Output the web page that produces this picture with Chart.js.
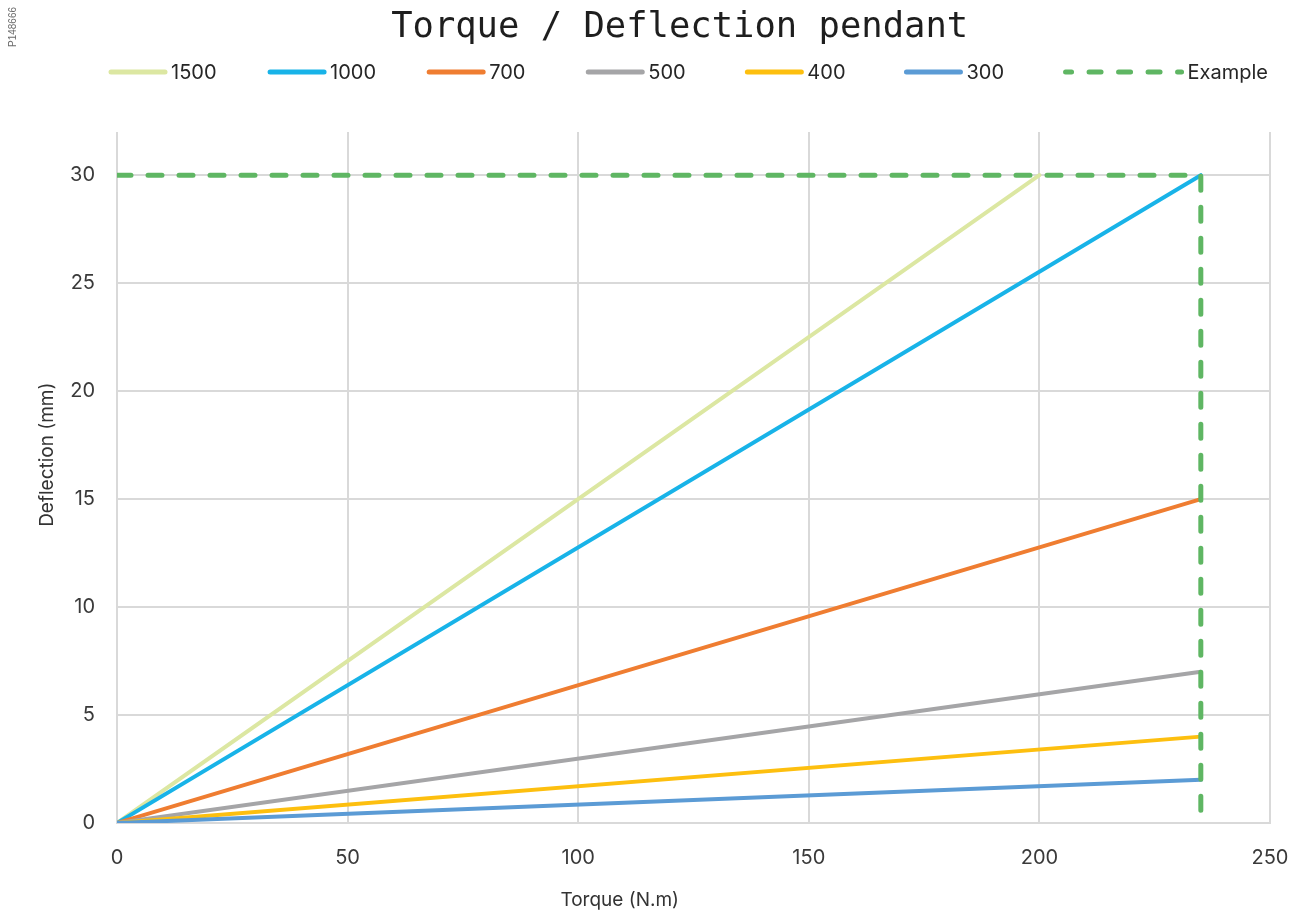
<!DOCTYPE html>
<html>
<head>
<meta charset="utf-8">
<title>Torque / Deflection pendant</title>
<style>
  html, body { margin: 0; padding: 0; background: #ffffff; }
  #wrap { width: 1308px; height: 916px; }
</style>
<script src="https://cdn.jsdelivr.net/npm/chart.js@4.4.1/dist/chart.umd.min.js"></script>
</head>
<body>
<div id="wrap"><canvas id="chart" width="1308" height="916"></canvas></div>
<script>
// Series labels (pendant length) and their end points
const seriesLabels = ['1500', '1000', '700', '500', '400', '300', 'Example'];
const torque1500 = [0, 200];
const deflection1500 = [0, 30];
const torqueRange = [0, 235];
const deflection1000 = [0, 30];
const deflection700 = [0, 15];
const deflection500 = [0, 7];
const deflection400 = [0, 4];
const deflection300 = [0, 2];
const exampleTorque = [0, 235, 235];
const exampleDeflection = [30, 30, 0];

// Axis ticks
const xTickValues = [0, 50, 100, 150, 200, 250];
const yTickValues = [0, 5, 10, 15, 20, 25, 30];

const chartTitle = 'Torque / Deflection pendant';
const xAxisTitle = 'Torque (N.m)';
const yAxisTitle = 'Deflection (mm)';
const documentCode = 'P148666';

const seriesColors = ['#dce7a2', '#18b3e8', '#ef7d31', '#a5a5a7', '#fdbf0f', '#5b9bd5', '#5fb663'];

const pts = (xs, ys) => xs.map((x, i) => ({ x: x, y: ys[i] }));

const seriesPoints = [
  pts(torque1500, deflection1500),
  pts(torqueRange, deflection1000),
  pts(torqueRange, deflection700),
  pts(torqueRange, deflection500),
  pts(torqueRange, deflection400),
  pts(torqueRange, deflection300),
  pts(exampleTorque, exampleDeflection)
];

const datasets = seriesLabels.map((label, i) => {
  const dashed = label === 'Example';
  return {
    label: label,
    data: seriesPoints[i],
    showLine: true,
    borderColor: seriesColors[i],
    backgroundColor: seriesColors[i],
    borderWidth: dashed ? 5 : 4,
    borderDash: dashed ? [14, 17] : [],
    borderCapStyle: 'round',
    borderJoinStyle: 'round',
    pointRadius: 0,
    pointHoverRadius: 0,
    fill: false,
    tension: 0,
    // later series are painted over earlier ones
    order: seriesLabels.length - i
  };
});

const FONT = 'Inter, "Noto Sans", sans-serif';

// Title, legend row, axis titles and the document code
const decorations = {
  id: 'decorations',
  afterDraw(chart) {
    const { ctx, chartArea: a } = chart;
    ctx.save();

    // title
    ctx.fillStyle = '#1e1e1e';
    ctx.font = '35.5px "DejaVu Sans Mono", monospace';
    ctx.textAlign = 'center';
    ctx.textBaseline = 'middle';
    ctx.fillText(chartTitle, a.left + 0.488 * (a.right - a.left), 28);

    // legend
    ctx.font = '20px ' + FONT;
    const items = chart.data.datasets.map(ds => {
      const dashed = ds.borderDash && ds.borderDash.length > 0;
      const lineLen = dashed ? 122 : 60;
      return { ds, dashed, lineLen, w: lineLen + 5 + ctx.measureText(ds.label).width };
    });
    const rowLeft = a.left - 9;
    const rowRight = a.right;
    const step = (rowRight - rowLeft - items[items.length - 1].w) / (items.length - 1);
    const ly = 72;
    items.forEach((it, i) => {
      const x = rowLeft + i * step;
      ctx.beginPath();
      ctx.strokeStyle = it.ds.borderColor;
      ctx.lineWidth = 5;
      ctx.lineCap = 'round';
      ctx.setLineDash(it.dashed ? [12, 17.5] : []);
      ctx.lineDashOffset = it.dashed ? 6 : 0;
      ctx.moveTo(x + 3, ly);
      ctx.lineTo(x + it.lineLen - 3, ly);
      ctx.stroke();
      ctx.setLineDash([]);
      ctx.lineDashOffset = 0;
      ctx.fillStyle = '#262626';
      ctx.textAlign = 'left';
      ctx.textBaseline = 'middle';
      ctx.fillText(it.ds.label, x + it.lineLen + 3, ly + 1);
    });

    // axis titles
    ctx.fillStyle = '#333333';
    ctx.font = '19px ' + FONT;
    ctx.textAlign = 'center';
    ctx.textBaseline = 'middle';
    ctx.fillText(xAxisTitle, a.left + 0.436 * (a.right - a.left), a.bottom + 77);

    ctx.save();
    ctx.translate(a.left - 70, a.top + 0.467 * (a.bottom - a.top));
    ctx.rotate(-Math.PI / 2);
    ctx.fillText(yAxisTitle, 0, 0);
    ctx.restore();

    // document code
    ctx.save();
    ctx.fillStyle = '#6b6b6b';
    ctx.font = '10px "Liberation Sans", Arial, sans-serif';
    ctx.translate(13, 27);
    ctx.rotate(-Math.PI / 2);
    ctx.fillText(documentCode, 0, 0);
    ctx.restore();

    ctx.restore();
  }
};

new Chart(document.getElementById('chart'), {
  type: 'scatter',
  data: { datasets },
  options: {
    responsive: false,
    devicePixelRatio: 1,
    animation: false,
    events: [],
    layout: { padding: { left: 40, right: 38, top: 132, bottom: 0 } },
    plugins: {
      legend: { display: false },
      tooltip: { enabled: false },
      title: { display: false }
    },
    scales: {
      x: {
        type: 'linear',
        min: 0,
        max: 250,
        afterBuildTicks: s => { s.ticks = xTickValues.map(v => ({ value: v })); },
        afterFit: s => { s.height = 93; s.paddingLeft = 0; s.paddingRight = 0; },
        grid: { color: '#d9d9d9', lineWidth: 2, drawTicks: false },
        border: { display: true, color: '#d9d9d9', width: 2 },
        ticks: { color: '#3a3a3a', font: { family: FONT, size: 20 }, padding: 23, maxRotation: 0 }
      },
      y: {
        type: 'linear',
        min: 0,
        max: 32,
        afterBuildTicks: s => { s.ticks = yTickValues.map(v => ({ value: v })); },
        afterFit: s => { s.width = 77; s.paddingTop = 0; s.paddingBottom = 0; },
        grid: { color: '#d9d9d9', lineWidth: 2, drawTicks: false },
        border: { display: false },
        ticks: { color: '#3a3a3a', font: { family: FONT, size: 20 }, padding: 22 }
      }
    }
  },
  plugins: [decorations]
});
</script>
</body>
</html>
